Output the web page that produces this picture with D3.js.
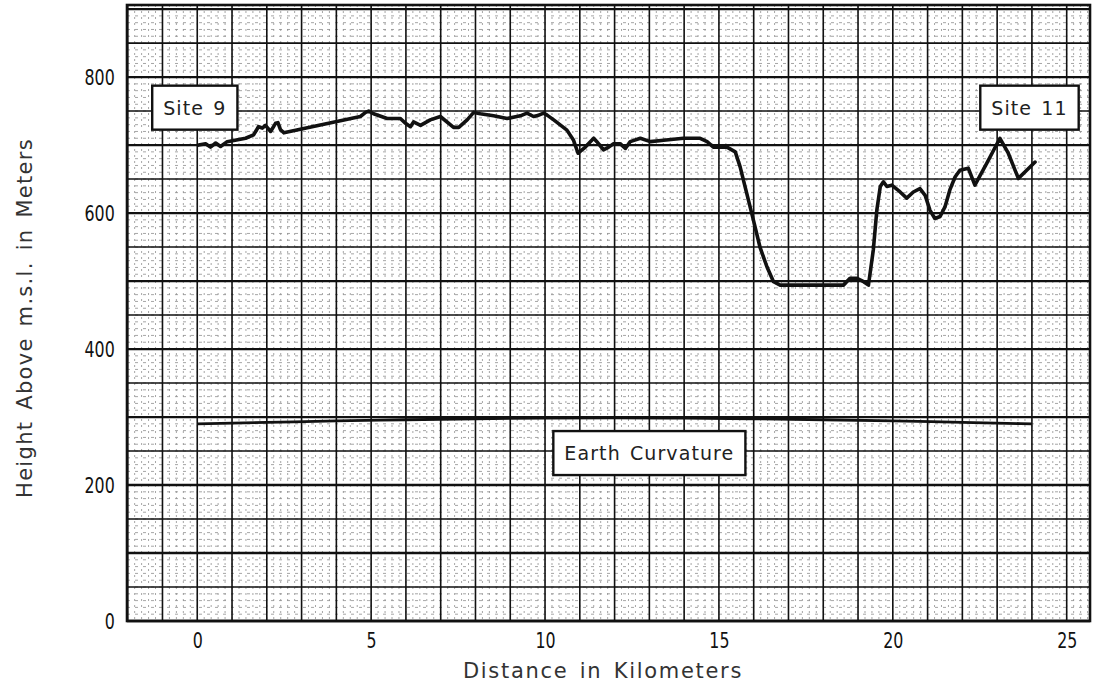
<!DOCTYPE html>
<html>
<head>
<meta charset="utf-8">
<script src="https://cdn.jsdelivr.net/npm/d3@7"></script>
<style>
  html, body { margin: 0; padding: 0; background: #fff; }
  svg { display: block; }
  .tick text { font-family: "DejaVu Sans", sans-serif; fill: #111; }
</style>
</head>
<body>
<svg id="chart" width="1103" height="689"></svg>
<script>
// ---- data ----
const profileKm = [0.04,0.24,0.38,0.53,0.67,0.86,1.39,1.62,1.76,1.87,1.96,2.11,2.25,2.32,2.39,2.49,4.69,4.84,4.93,5.07,5.46,5.84,5.99,6.13,6.22,6.42,6.70,6.99,7.37,7.52,7.76,7.95,8.14,8.52,8.91,9.29,9.48,9.67,9.82,9.96,10.06,10.25,10.63,10.82,10.95,11.16,11.40,11.49,11.68,11.83,11.97,12.16,12.31,12.45,12.74,13.03,13.41,13.98,14.46,14.66,14.84,15.23,15.47,15.61,15.80,15.99,16.18,16.38,16.57,16.76,18.58,18.77,18.97,19.16,19.30,19.44,19.54,19.64,19.73,19.83,19.97,20.21,20.40,20.59,20.78,20.93,21.07,21.21,21.36,21.50,21.64,21.79,21.93,22.17,22.36,22.70,23.08,23.32,23.61,23.85,24.09];
const profileM  = [700,702,697,703,698,705,710,715,727,725,729,720,732,733,723,718,742,748,750,746,739,739,732,727,734,729,737,742,726,726,737,748,746,743,739,743,747,742,744,747,744,737,722,707,688,697,710,705,693,697,702,702,695,705,710,705,707,710,710,705,697,697,690,668,629,590,550,521,499,494,494,504,504,499,494,546,604,639,646,639,641,631,622,631,636,626,604,592,595,609,634,653,663,666,641,673,710,688,651,663,675];

const curveKm = [0, 2, 4, 6, 8, 10, 12, 14, 16, 18, 20, 22, 24];
const curveM  = [290, 292, 294.5, 296, 297.5, 298.5, 299, 298.5, 297.5, 296, 294.5, 292, 290];

const xTicks = [0, 5, 10, 15, 20, 25];
const yTicks = [0, 200, 400, 600, 800];

const labels = [
  { text: "Site 9",          km: -0.07, m: 755 },
  { text: "Site 11",         km: 23.93, m: 755 },
  { text: "Earth Curvature", km: 13.0,  m: 247 }
];

const xTitle = "Distance in Kilometers";
const yTitle = "Height Above m.s.l. in Meters";

// ---- drawing ----
const FONT = "\"DejaVu Sans\", sans-serif";
const svg = d3.select("#chart");
const x = d3.scaleLinear().domain([-2.02, 25.67]).range([127, 1090]);
const y = d3.scaleLinear().domain([0, 906]).range([621, 5]);

const [x0, x1] = x.range();
const [yb, yt] = y.range();

// minor texture grid (graph paper)
const g = svg.append("g");
const minorX = d3.range(-2, 25.7, 0.2);
const minorY = d3.range(0, 906, 10);
g.selectAll("line.mx").data(minorX).join("line")
  .attr("x1", d => x(d)).attr("x2", d => x(d)).attr("y1", yt).attr("y2", yb)
  .attr("stroke", "#8f8f8f").attr("stroke-width", 0.8).attr("stroke-dasharray", "2,4");
g.selectAll("line.my").data(minorY).join("line")
  .attr("x1", x0).attr("x2", x1).attr("y1", d => y(d)).attr("y2", d => y(d))
  .attr("stroke", "#8f8f8f").attr("stroke-width", 0.8).attr("stroke-dasharray", "3,5");

// major grid: every km and every 50 m
const majorX = d3.range(-2, 25.7, 1);
const majorY = d3.range(0, 906, 50);
g.selectAll("line.gx").data(majorX).join("line")
  .attr("x1", d => x(d)).attr("x2", d => x(d)).attr("y1", yt).attr("y2", yb)
  .attr("stroke", "#111").attr("stroke-width", 1.6);
g.selectAll("line.gy").data(majorY).join("line")
  .attr("x1", x0).attr("x2", x1).attr("y1", d => y(d)).attr("y2", d => y(d))
  .attr("stroke", "#111").attr("stroke-width", d => d % 100 === 0 ? 2.3 : 1.6);

// frame
svg.append("rect").attr("x", x0).attr("y", yt).attr("width", x1 - x0).attr("height", yb - yt)
  .attr("fill", "none").attr("stroke", "#111").attr("stroke-width", 2.6);

// axes
const xAxis = svg.append("g").attr("transform", `translate(0,${yb})`)
  .call(d3.axisBottom(x).tickValues(xTicks).tickSize(0).tickPadding(11).tickFormat(d3.format("d")));
xAxis.select(".domain").remove();
xAxis.selectAll("text").attr("font-size", 22).attr("transform", "scale(0.72,1)");

const yAxis = svg.append("g").attr("transform", `translate(${x0},0)`)
  .call(d3.axisLeft(y).tickValues(yTicks).tickSize(0).tickPadding(17).tickFormat(d3.format("d")));
yAxis.select(".domain").remove();
yAxis.selectAll("text").attr("font-size", 22).attr("transform", "scale(0.72,1)");

// earth curvature line
svg.append("path")
  .datum(curveKm.map((k, i) => [k, curveM[i]]))
  .attr("d", d3.line().x(d => x(d[0])).y(d => y(d[1])).curve(d3.curveBasis))
  .attr("fill", "none").attr("stroke", "#111").attr("stroke-width", 2.8);

// terrain profile
svg.append("path")
  .datum(profileKm.map((k, i) => [k, profileM[i]]))
  .attr("d", d3.line().x(d => x(d[0])).y(d => y(d[1])))
  .attr("fill", "none").attr("stroke", "#111").attr("stroke-width", 3.6)
  .attr("stroke-linejoin", "round").attr("stroke-linecap", "round");

// boxed labels
labels.forEach(l => {
  const lg = svg.append("g").attr("transform", `translate(${x(l.km)},${y(l.m)})`);
  const t = lg.append("text").text(l.text)
    .attr("text-anchor", "middle").attr("dominant-baseline", "central")
    .attr("font-family", FONT)
    .attr("font-size", 19).attr("letter-spacing", 1.1).attr("word-spacing", 2).attr("fill", "#222");
  const bb = t.node().getBBox();
  const padX = 11, padY = 11;
  lg.insert("rect", "text")
    .attr("x", bb.x - padX).attr("y", -bb.height / 2 - padY)
    .attr("width", bb.width + 2 * padX).attr("height", bb.height + 2 * padY)
    .attr("fill", "#fff").attr("stroke", "#111").attr("stroke-width", 2.4);
});

// axis titles
svg.append("text").text(xTitle)
  .attr("x", 603).attr("y", 678).attr("text-anchor", "middle")
  .attr("font-family", FONT)
  .attr("font-size", 21).attr("letter-spacing", 1.7).attr("word-spacing", 3).attr("fill", "#333");

svg.append("text").text(yTitle)
  .attr("transform", "translate(32,318) rotate(-90)").attr("text-anchor", "middle")
  .attr("font-family", FONT)
  .attr("font-size", 21).attr("letter-spacing", 1.3).attr("word-spacing", 3).attr("fill", "#333");
</script>
</body>
</html>
